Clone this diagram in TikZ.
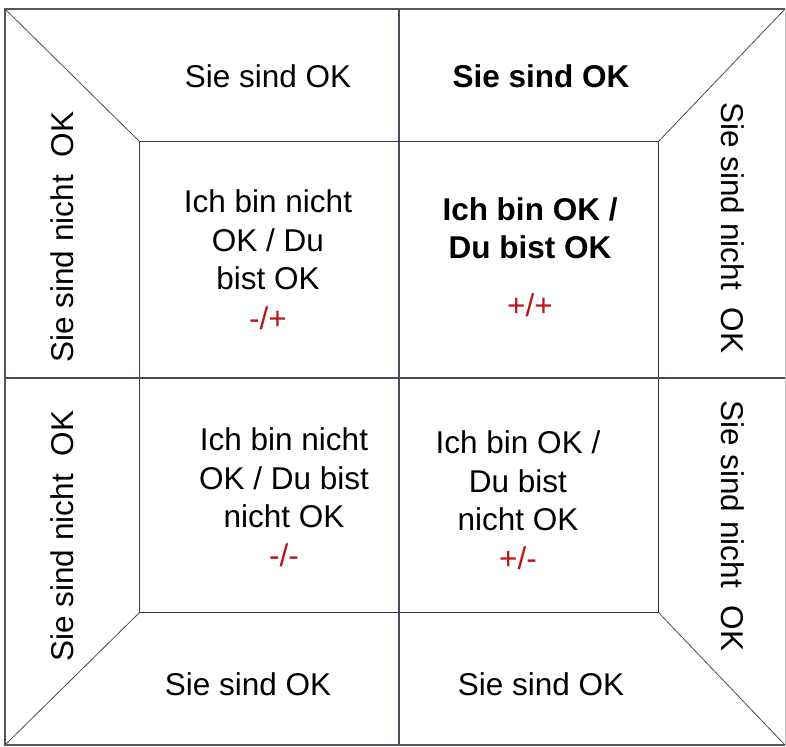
\documentclass[tikz,border=0pt]{standalone}
\usepackage{fontspec}
\setmainfont{Liberation Sans}
\definecolor{linec}{HTML}{4A4A5A}
\definecolor{boxc}{HTML}{3A3A48}
\definecolor{framec}{HTML}{55555F}
\definecolor{redc}{HTML}{B8141E}
\begin{document}
\begin{tikzpicture}[x=1pt,y=-1pt,
  lbl/.style={font=\fontsize{31.5}{38.5}\selectfont, align=center, inner sep=0pt, text=black},
  ln/.style={draw=linec, line width=1.1pt},
  frame/.style={draw=framec, line width=1.8pt},
  red/.style={text=redc}]
\useasboundingbox (0,0) rectangle (786,746);
\coordinate (o1) at (5,9);
\coordinate (o2) at (785,9);
\coordinate (o3) at (785,745);
\coordinate (o4) at (5,745);
\coordinate (i1) at (139.5,141.5);
\coordinate (i2) at (658.5,141.5);
\coordinate (i3) at (658.5,612.5);
\coordinate (i4) at (139.5,612.5);
\coordinate (vt) at (399,9);
\coordinate (vb) at (399,745);
\coordinate (hl) at (5,378);
\coordinate (hr) at (785,378);
% lines
\draw[ln] (vt) -- (vb);
\draw[ln] (hl) -- (hr);
\draw[draw=boxc, line width=1.5pt] (i1) -- (i2) -- (i3) -- (i4) -- cycle;
\draw[ln, line width=0.8pt] (o1) -- (i1);
\draw[ln, line width=0.8pt] (o2) -- (i2);
\draw[ln, line width=0.8pt] (o3) -- (i3);
\draw[ln, line width=0.8pt] (o4) -- (i4);
\draw[draw=black!25, line width=0.8pt] (o2) -- (o3);
\draw[frame] (o2) -- (o1) -- (o4) -- (o3);
% top / bottom labels
\node[lbl] (t1) at (268,76) {Sie sind OK};
\node[lbl, font=\fontsize{31.5}{38.5}\selectfont\bfseries] (t2) at (541,76) {Sie sind OK};
\node[lbl] (b1) at (248,684) {Sie sind OK};
\node[lbl] (b2) at (541,684) {Sie sind OK};
% side labels
\node[lbl, rotate=90] (l1) at (62,237) {Sie sind nicht\hspace{0.3em} OK};
\node[lbl, rotate=90] (l2) at (62,536) {Sie sind nicht\hspace{0.3em} OK};
\node[lbl, rotate=-90] (r1) at (733,228) {Sie sind nicht\hspace{0.3em} OK};
\node[lbl, rotate=-90] (r2) at (733,526) {Sie sind nicht\hspace{0.3em} OK};
% cells
\node[lbl] (c1) at (268,260) {Ich bin nicht\\OK / Du\\bist OK\\[1.5pt]\textcolor{redc}{-/+}};
\node[lbl, font=\fontsize{31.5}{38.5}\selectfont\bfseries] (c2) at (530,228) {Ich bin OK /\\Du bist OK};
\node[lbl, red] (c2r) at (530,305) {+/+};
\node[lbl] (c3) at (284,497) {Ich bin nicht\\OK / Du bist\\nicht OK\\\textcolor{redc}{-/-}};
\node[lbl] (c4) at (518,500) {Ich bin OK /\\Du bist\\nicht OK\\\textcolor{redc}{+/-}};
\end{tikzpicture}
\end{document}
